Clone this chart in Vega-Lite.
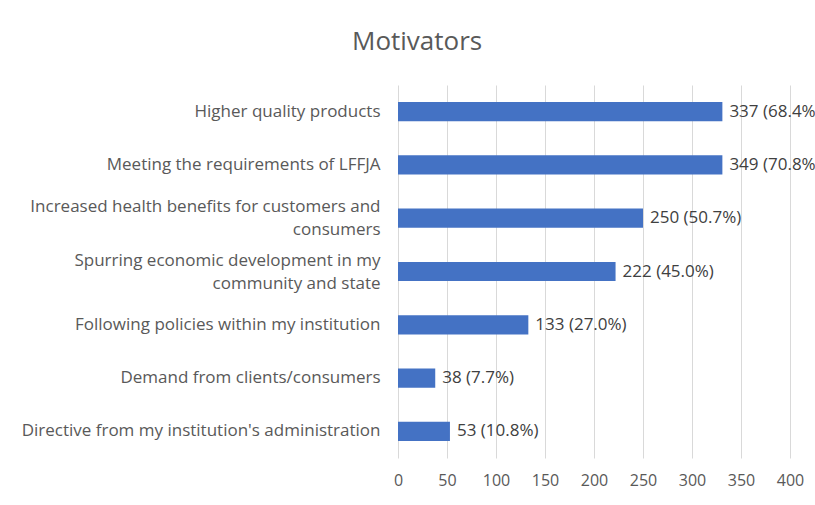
{
  "$schema": "https://vega.github.io/schema/vega-lite/v6.json",
  "autosize": {"type": "none"},
  "width": 392,
  "height": 373,
  "padding": {"left": 398, "top": 85, "right": 25, "bottom": 47},
  "background": "white",
  "title": {
    "text": "Motivators",
    "anchor": "start",
    "frame": "group",
    "dx": -46,
    "offset": 30,
    "font": "Open Sans",
    "fontSize": 26,
    "fontWeight": "normal",
    "color": "#595959"
  },
  "data": {
    "values": [
      {"motivator": "Higher quality products", "count": 331, "label": "337 (68.4%)"},
      {"motivator": "Meeting the requirements of LFFJA", "count": 331, "label": "349 (70.8%)"},
      {"motivator": "Increased health benefits for customers and|consumers", "count": 250, "label": "250 (50.7%)"},
      {"motivator": "Spurring economic development in my|community and state", "count": 222, "label": "222 (45.0%)"},
      {"motivator": "Following policies within my institution", "count": 133, "label": "133 (27.0%)"},
      {"motivator": "Demand from clients/consumers", "count": 38, "label": "38 (7.7%)"},
      {"motivator": "Directive from my institution's administration", "count": 53, "label": "53 (10.8%)"}
    ]
  },
  "encoding": {
    "y": {
      "field": "motivator",
      "type": "nominal",
      "sort": null,
      "title": null,
      "scale": {"paddingInner": 0.64, "paddingOuter": 0.32},
      "axis": {
        "domain": false,
        "ticks": false,
        "grid": false,
        "labelPadding": 18,
        "labelFont": "Open Sans",
        "labelFontSize": 17,
        "labelColor": "#595959",
        "labelLimit": 420,
        "labelLineHeight": 23,
        "labelOffset": {"condition": {"test": "indexof(datum.label, '|') >= 0", "value": -11}, "value": 0},
        "labelExpr": "split(datum.label, '|')"
      }
    },
    "x": {
      "field": "count",
      "type": "quantitative",
      "title": null,
      "scale": {"domain": [0, 400], "nice": false},
      "axis": {
        "values": [0, 50, 100, 150, 200, 250, 300, 350, 400],
        "domain": false,
        "ticks": false,
        "grid": true,
        "gridColor": "#d9d9d9",
        "gridWidth": 1,
        "labelFlush": false,
        "labelOverlap": false,
        "labelPadding": 14,
        "labelFont": "Open Sans",
        "labelFontSize": 16,
        "labelColor": "#595959"
      }
    }
  },
  "layer": [
    {"mark": {"type": "bar", "color": "#4472C4"}},
    {
      "mark": {"type": "text", "align": "left", "baseline": "middle", "dx": 7, "font": "Open Sans", "fontSize": 17, "color": "#404040"},
      "encoding": {"text": {"field": "label"}}
    }
  ],
  "config": {"view": {"stroke": null}}
}
